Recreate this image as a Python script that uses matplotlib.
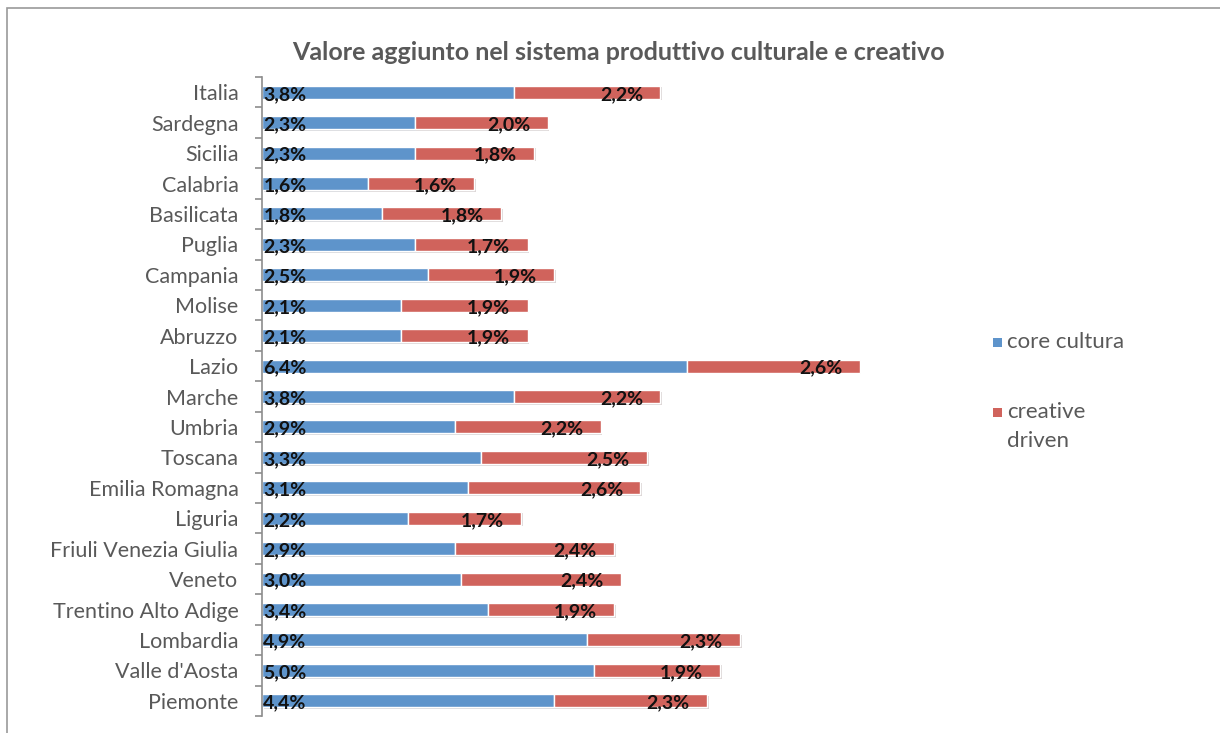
import matplotlib.pyplot as plt
import matplotlib.patheffects as pe
from matplotlib.patches import Rectangle
import numpy as np

REGIONS = [
    "Italia", "Sardegna", "Sicilia", "Calabria", "Basilicata", "Puglia",
    "Campania", "Molise", "Abruzzo", "Lazio", "Marche", "Umbria", "Toscana",
    "Emilia Romagna", "Liguria", "Friuli Venezia Giulia", "Veneto",
    "Trentino Alto Adige", "Lombardia", "Valle d'Aosta", "Piemonte",
]
CORE = [3.8, 2.3, 2.3, 1.6, 1.8, 2.3, 2.5, 2.1, 2.1, 6.4, 3.8, 2.9, 3.3,
        3.1, 2.2, 2.9, 3.0, 3.4, 4.9, 5.0, 4.4]
CREATIVE = [2.2, 2.0, 1.8, 1.6, 1.8, 1.7, 1.9, 1.9, 1.9, 2.6, 2.2, 2.2, 2.5,
            2.6, 1.7, 2.4, 2.4, 1.9, 2.3, 1.9, 2.3]
SERIES = ["core cultura", "creative\ndriven"]

BLUE = "#5e94cb"
RED = "#d0635c"
GRAY_TEXT = "#595959"
AXIS_GRAY = "#8c8c8c"
W, H = 1220, 733


def fmt(v: float) -> str:
    return f"{v:.1f}%".replace(".", ",")


plt.rcParams["font.family"] = ["Lato", "DejaVu Sans"]

fig = plt.figure(figsize=(W / 100, H / 100), dpi=100)
fig.patches.append(Rectangle((7 / W, -0.1), 1.2, (H - 8) / H + 0.1,
                             transform=fig.transFigure, fill=False,
                             edgecolor="#9a9a9a", linewidth=1.2))

# axes: x data 0 at px 262, 66.4 px per percentage point
left_px, top_px, bottom_px = 262, 77, 716
xmax = 9.5
width_px = xmax * 66.4
ax = fig.add_axes([left_px / W, 1 - bottom_px / H,
                   width_px / W, (bottom_px - top_px) / H])

y = np.arange(len(REGIONS))
core = np.array(CORE)
creative = np.array(CREATIVE)
shadow = [pe.SimplePatchShadow(offset=(1.2, -1.2), alpha=0.18), pe.Normal()]

bars_core = ax.barh(y, core, height=0.43, color=BLUE, edgecolor="white",
                    linewidth=1.0, label=SERIES[0])
bars_cre = ax.barh(y, creative, left=core, height=0.43, color=RED,
                   edgecolor="white", linewidth=1.0, label=SERIES[1])
for b in list(bars_core) + list(bars_cre):
    b.set_path_effects(shadow)

for yi, c, r in zip(y, core, creative):
    ax.text(0.02, yi + 0.07, fmt(c), ha="left", va="center", fontsize=14,
            fontweight="bold", color="#111111")
    ax.text(c + r - 0.26, yi + 0.07, fmt(r), ha="right", va="center",
            fontsize=14, fontweight="bold", color="#111111")

ax.set_xlim(0, xmax)
ax.set_ylim(len(REGIONS) - 0.5, -0.5)
ax.set_yticks(y)
ax.set_yticklabels(REGIONS, fontsize=15.5, color=GRAY_TEXT)
ax.set_yticks(np.arange(-0.5, len(REGIONS)), minor=True)
ax.tick_params(axis="y", which="major", length=0, pad=17)
ax.tick_params(axis="y", which="minor", length=5, color=AXIS_GRAY, width=1.2)
ax.tick_params(axis="x", bottom=False, labelbottom=False)
for side in ("top", "right", "bottom"):
    ax.spines[side].set_visible(False)
ax.spines["left"].set_color(AXIS_GRAY)
ax.spines["left"].set_linewidth(1.2)
ax.patch.set_alpha(0)

fig.text(618 / W, 1 - 52 / H,
         "Valore aggiunto nel sistema produttivo culturale e creativo",
         ha="center", va="center", fontsize=18, fontweight="bold",
         color=GRAY_TEXT)

# legend drawn by hand: square key + label, second label wraps on two lines
legend_rows = [(SERIES[0], BLUE, 343), (SERIES[1], RED, 413)]
for label, color, ypx in legend_rows:
    fig.patches.append(Rectangle((993 / W, 1 - (ypx + 4) / H), 9 / W, 9 / H,
                                 transform=fig.transFigure, facecolor=color,
                                 edgecolor="none"))
    fig.text(1007 / W, 1 - (ypx - 11) / H, label, ha="left", va="top",
             fontsize=16, color=GRAY_TEXT, linespacing=1.55)

fig.savefig("out.png", dpi=100)
